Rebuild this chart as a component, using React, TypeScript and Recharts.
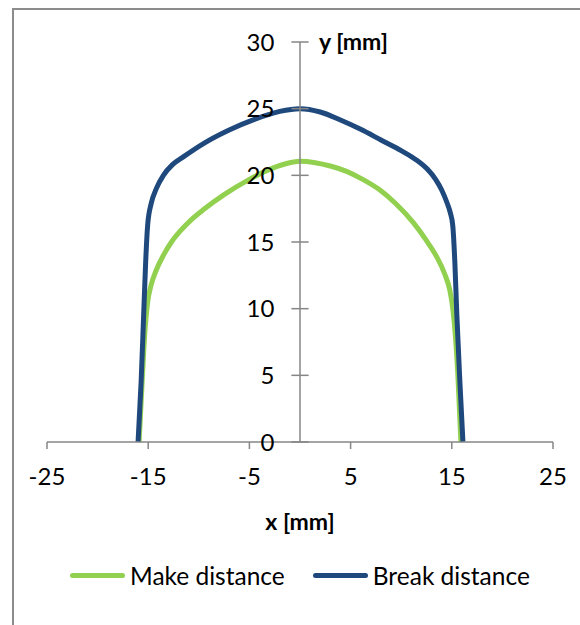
import React from "react";
import {
  LineChart,
  Line,
  XAxis,
  YAxis,
  ReferenceLine,
} from "recharts";

// Make distance (green) and break distance (blue), x/y in mm
const makeX = [-15.9, -15.6, -15.35, -15.05, -14.7, -14.2, -13.5, -12.7, -11.8, -10.7, -9.5, -7.5, -5, -3, -1.5, 0, 1.5, 3, 4.6, 6.2, 7.9, 9.5, 11.2, 12.5, 13.5, 14.3, 14.8, 15.1, 15.35, 15.6, 15.9];
const makeY = [0, 4.5, 8, 10.5, 11.8, 12.9, 14.0, 15.0, 15.85, 16.7, 17.45, 18.55, 19.7, 20.45, 20.85, 21.05, 20.95, 20.7, 20.3, 19.7, 18.9, 17.85, 16.45, 15.1, 13.9, 12.6, 11.4, 10, 8, 5, 0];

const breakX = [-16, -15.7, -15.45, -15.25, -15.05, -14.7, -14.2, -13.5, -12.6, -11.5, -9.5, -7, -4.5, -2, 0, 2, 4, 6, 8, 10, 11.5, 12.6, 13.4, 14.0, 14.5, 14.85, 15.1, 15.3, 15.5, 15.8, 16.1];
const breakY = [0, 4.5, 9.5, 13.5, 16.3, 17.9, 19.0, 20.0, 20.8, 21.4, 22.4, 23.4, 24.2, 24.8, 25, 24.75, 24.15, 23.45, 22.65, 21.85, 21.15, 20.45, 19.7, 18.9, 18.0, 17.2, 16.2, 13.5, 9.5, 4.5, 0];

const xTicks = [-25, -15, -5, 5, 15, 25];
const yTicks = [0, 5, 10, 15, 20, 25, 30];

const seriesNames = ["Make distance", "Break distance"];
const seriesColors = ["#92D050", "#1F497D"];

const makeData = makeX.map((x, i) => ({ x, y: makeY[i] }));
const breakData = breakX.map((x, i) => ({ x, y: breakY[i] }));

const FONT = "Lato, 'Open Sans', sans-serif";
const AXIS = "#868686";

export default function App() {
  return (
    <div
      style={{
        position: "fixed",
        left: 0,
        top: 0,
        width: 580,
        height: 625,
        overflow: "hidden",
        background: "#fff",
        fontFamily: FONT,
      }}
    >
      {/* chart frame, runs off the right/bottom edge */}
      <div
        style={{
          position: "absolute",
          left: 12,
          top: 8,
          width: 700,
          height: 800,
          border: "2px solid #8c8c8c",
        }}
      />
      <div style={{ position: "absolute", left: 0, top: 0 }}>
        <LineChart
          width={580}
          height={625}
          margin={{ top: 42, right: 27, bottom: 153, left: 47 }}
        >
          <XAxis
            type="number"
            dataKey="x"
            domain={[-25, 25]}
            ticks={xTicks}
            height={30}
            stroke={AXIS}
            strokeWidth={1.5}
            tickSize={7}
            tickMargin={19}
            tick={{ fill: "#000", fontSize: 24, fontFamily: FONT }}
            allowDataOverflow
            label={({ viewBox }: any) => (
              <text
                x={viewBox.x + viewBox.width / 2}
                y={viewBox.y + 88}
                textAnchor="middle"
                fontWeight="bold"
                fontSize={23}
                fontFamily={FONT}
                fill="#000"
              >
                x [mm]
              </text>
            )}
          />
          <YAxis type="number" domain={[0, 30]} hide />
          <Line
            data={makeData}
            dataKey="y"
            type="monotone"
            stroke={seriesColors[0]}
            strokeWidth={5}
            dot={false}
            isAnimationActive={false}
          />
          <Line
            data={breakData}
            dataKey="y"
            type="monotone"
            stroke={seriesColors[1]}
            strokeWidth={5}
            dot={false}
            isAnimationActive={false}
          />
          <ReferenceLine
            x={0}
            stroke={AXIS}
            strokeWidth={1.5}
            label={({ viewBox }: any) => (
              <text
                x={viewBox.x + 19}
                y={viewBox.y + 8}
                fontWeight="bold"
                fontSize={23}
                fontFamily={FONT}
                fill="#000"
              >
                y [mm]
              </text>
            )}
          />
          {yTicks.map((v) => (
            <ReferenceLine
              key={v}
              segment={[
                { x: -0.85, y: v },
                { x: 0.85, y: v },
              ]}
              stroke={AXIS}
              strokeWidth={1.5}
              label={{
                value: String(v),
                position: "left",
                offset: 17,
                fill: "#000",
                fontSize: 24,
                fontFamily: FONT,
              }}
            />
          ))}
        </LineChart>
      </div>
      <div
        style={{
          position: "absolute",
          top: 561,
          left: 70,
          display: "flex",
          alignItems: "center",
          fontSize: 24.5,
          color: "#000",
        }}
      >
        {seriesNames.map((name, i) => (
          <div
            key={name}
            style={{ display: "flex", alignItems: "center", marginRight: 28 }}
          >
            <div
              style={{
                width: 55,
                height: 5,
                borderRadius: 3,
                background: seriesColors[i],
                marginRight: 5,
              }}
            />
            <span>{name}</span>
          </div>
        ))}
      </div>
    </div>
  );
}
